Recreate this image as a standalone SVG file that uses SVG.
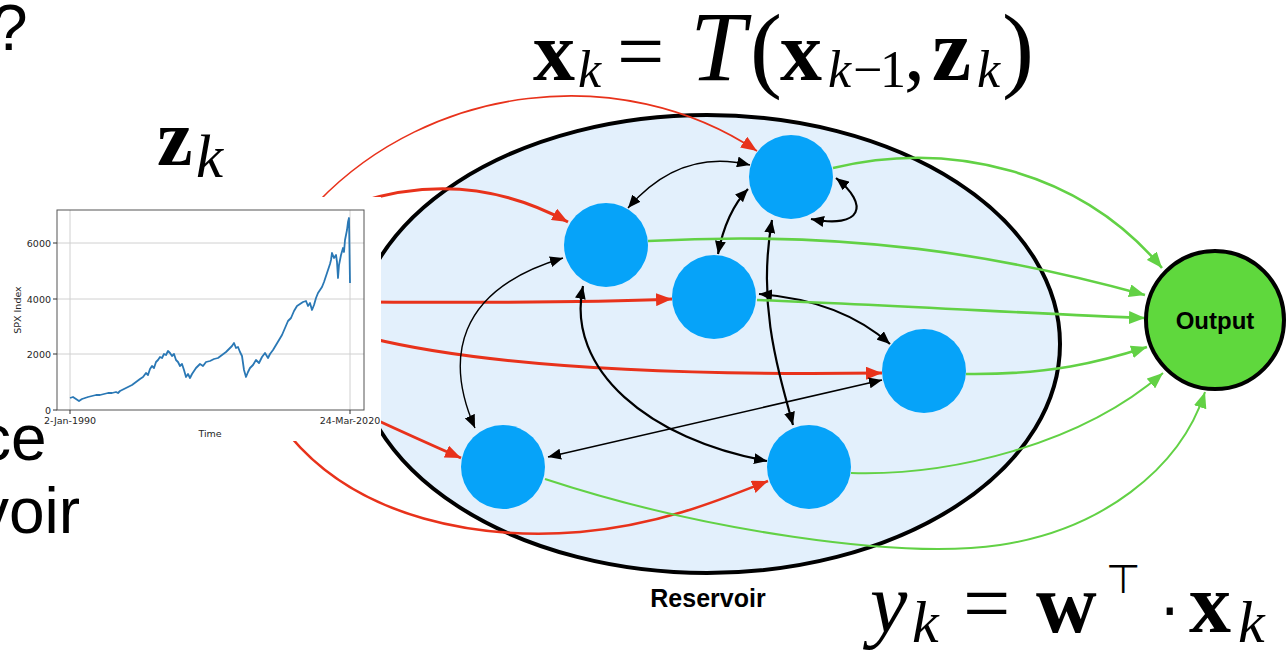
<svg xmlns="http://www.w3.org/2000/svg" width="1286" height="652" viewBox="0 0 1286 652">
<style>
.node{fill:#06a3f9}
.blk{fill:none;stroke:#000;stroke-width:2.2}
.red{fill:none;stroke:#e8321b;stroke-width:3}
.grn{fill:none;stroke:#62d145;stroke-width:2.6}
.big{font-family:"Liberation Sans",Arial,sans-serif;font-size:64px;fill:#000}
.lab{font-family:"Liberation Sans",Arial,sans-serif;font-weight:bold;fill:#000}
.mb{font-family:"Liberation Serif","Times New Roman",serif;font-weight:bold}
.mi{font-family:"Liberation Serif","Times New Roman",serif;font-style:italic}
.mr{font-family:"Liberation Serif","Times New Roman",serif}
.tick{font-family:"DejaVu Sans",sans-serif;font-size:9.5px;fill:#262626}
.grid{stroke:#d0d0d0;stroke-width:1}
</style>
<defs>
<marker id="ab" viewBox="0 0 13 11" refX="13" refY="5.5" markerWidth="13" markerHeight="11" markerUnits="userSpaceOnUse" orient="auto-start-reverse"><path d="M0,0 L13,5.5 L0,11 z" fill="#000"/></marker>
<marker id="ar" viewBox="0 0 16 13" refX="16" refY="6.5" markerWidth="16" markerHeight="13" markerUnits="userSpaceOnUse" orient="auto"><path d="M0,0 L16,6.5 L0,13 z" fill="#e8321b"/></marker>
<marker id="ag" viewBox="0 0 16 13" refX="16" refY="6.5" markerWidth="16" markerHeight="13" markerUnits="userSpaceOnUse" orient="auto"><path d="M0,0 L16,6.5 L0,13 z" fill="#62d145"/></marker>
</defs>

<g id="reservoir">
<ellipse cx="707" cy="344" rx="353" ry="229" fill="#e3f0fc" stroke="#000" stroke-width="4"/>
</g>

<g id="connectors">
<path class="red" style="stroke-width:1.6" d="M318,202 C430,85 620,60 757,151" marker-end="url(#ar)"/>
<path class="red" d="M360,202 C430,180 500,185 568,222" marker-end="url(#ar)"/>
<path class="red" d="M370,302 C500,303 600,302 672,299" marker-end="url(#ar)"/>
<path class="red" d="M370,338 C480,365 650,376 882,373" marker-end="url(#ar)"/>
<path class="red" d="M370,417 Q420,440 461,458" marker-end="url(#ar)"/>
<path class="red" style="stroke-width:2.6" d="M290,436 C360,520 480,540 580,532 C660,525 720,500 768,481" marker-end="url(#ar)"/>
<path class="blk" style="stroke-width:1.4" d="M628,208 Q680,148 750,165" marker-start="url(#ab)" marker-end="url(#ab)"/>
<path class="blk" d="M718,254 Q726,212 748,189" marker-start="url(#ab)" marker-end="url(#ab)"/>
<path class="blk" d="M811,219 C862,229 870,205 836,178" marker-start="url(#ab)" marker-end="url(#ab)"/>
<path class="blk" style="stroke-width:1.4" d="M475,428 C445,360 455,290 563,258" marker-start="url(#ab)" marker-end="url(#ab)"/>
<path class="blk" d="M583,286 C565,370 650,440 767,461" marker-start="url(#ab)" marker-end="url(#ab)"/>
<path class="blk" d="M759,294 Q840,300 890,344" marker-start="url(#ab)" marker-end="url(#ab)"/>
<path class="blk" d="M772,220 C758,300 775,360 793,425" marker-start="url(#ab)" marker-end="url(#ab)"/>
<path class="blk" style="stroke-width:1.6" d="M548,457 L882,380" marker-start="url(#ab)" marker-end="url(#ab)"/>
<path class="grn" d="M833,168 C950,140 1080,170 1162,268" marker-end="url(#ag)"/>
<path class="grn" d="M648,241 C850,230 1000,255 1145,295" marker-end="url(#ag)"/>
<path class="grn" d="M757,300 C900,305 1050,315 1145,318" marker-end="url(#ag)"/>
<path class="grn" d="M966,374 C1050,375 1100,362 1147,347" marker-end="url(#ag)"/>
<path class="grn" style="stroke-width:2" d="M851,473 C950,476 1080,445 1163,373" marker-end="url(#ag)"/>
<path class="grn" style="stroke-width:2" d="M545,479 C700,530 900,560 1000,545 C1100,530 1180,470 1205,392" marker-end="url(#ag)"/>
</g>

<g id="node-B"><circle class="node" cx="791" cy="177" r="42"/></g>
<g id="node-A"><circle class="node" cx="606" cy="245" r="42"/></g>
<g id="node-C"><circle class="node" cx="714" cy="297" r="42"/></g>
<g id="node-D"><circle class="node" cx="924" cy="371" r="42"/></g>
<g id="node-E"><circle class="node" cx="503" cy="467" r="42"/></g>
<g id="node-F"><circle class="node" cx="809" cy="467" r="42"/></g>
<g id="node-output">
<circle cx="1215" cy="320" r="69" fill="#5fd83d" stroke="#000" stroke-width="4"/>
<text class="lab" x="1215" y="329" font-size="24" text-anchor="middle">Output</text>
</g>
<g id="label-reservoir"><text class="lab" x="708" y="607" font-size="25" text-anchor="middle">Reservoir</text></g>

<g id="chart">
<rect x="0" y="197" width="381" height="244" fill="#fff"/>
<line class="grid" x1="57" y1="243" x2="364" y2="243"/>
<line class="grid" x1="57" y1="299" x2="364" y2="299"/>
<line class="grid" x1="57" y1="354" x2="364" y2="354"/>
<line class="grid" x1="70" y1="210" x2="70" y2="410"/>
<line class="grid" x1="350" y1="210" x2="350" y2="410"/>
<polyline fill="none" stroke="#2a78b5" stroke-width="1.8" stroke-linejoin="round" points="70,398 73,397 76,399 79,401 82,399 85,398 88,397 92,396 96,395 100,395 104,394 108,393 112,393 116,392 118,393 120,391 124,389 128,387 132,385 136,382 140,379 143,377 146,373 148,375 150,369 152,366 154,368 156,362 158,360 160,357 162,358 164,354 166,355 168,351 170,353 172,356 174,354 176,360 178,362 180,366 182,364 184,370 186,377 188,374 190,378 192,374 194,371 196,368 198,366 200,364 203,366 206,362 210,361 214,359 218,358 222,355 226,352 229,349 232,346 234,343 236,348 238,347 240,352 242,356 244,370 246,377 248,372 250,368 253,365 256,360 259,363 262,357 265,353 268,358 270,354 273,350 276,345 279,340 282,335 285,328 288,321 291,318 294,311 297,306 300,304 303,302 306,301 308,306 310,303 312,310 314,305 316,298 318,293 320,290 322,287 324,282 326,276 328,270 330,264 331,260 332,253 334,258 336,255 337,262 338,278 339,265 341,255 343,248 344,252 345,240 347,230 348,222 349,218 350,283"/>
<rect x="57" y="210" width="307" height="200" fill="none" stroke="#555" stroke-width="1"/>
<g stroke="#333" stroke-width="1">
<line x1="53" y1="243" x2="57" y2="243"/><line x1="53" y1="299" x2="57" y2="299"/><line x1="53" y1="354" x2="57" y2="354"/><line x1="53" y1="410" x2="57" y2="410"/>
<line x1="70" y1="410" x2="70" y2="414"/><line x1="350" y1="410" x2="350" y2="414"/>
</g>
<text class="tick" x="51" y="246.5" text-anchor="end">6000</text>
<text class="tick" x="51" y="302.5" text-anchor="end">4000</text>
<text class="tick" x="51" y="357.5" text-anchor="end">2000</text>
<text class="tick" x="51" y="413.5" text-anchor="end">0</text>
<text class="tick" x="70" y="424" text-anchor="middle">2-Jan-1990</text>
<text class="tick" x="350" y="424" text-anchor="middle">24-Mar-2020</text>
<text class="tick" x="210" y="437" text-anchor="middle">Time</text>
<text class="tick" x="0" y="0" text-anchor="middle" transform="translate(21,310) rotate(-90)">SPX Index</text>
</g>

<g id="side-text">
<text class="big" x="-8" y="50">?</text>
<text class="big" x="-21" y="460">ce</text>
<text class="big" x="-23" y="533">voir</text>
</g>

<g id="eq-z">
<text x="157" y="165" class="mb" font-size="80">z</text>
<text x="196" y="177" class="mi" font-size="61">k</text>
</g>

<g id="eq-top">
<text y="80"><tspan class="mb" x="533" font-size="84">x</tspan><tspan class="mi" x="578" y="87" font-size="52">k</tspan><tspan class="mr" x="617" y="80" font-size="84">=</tspan><tspan class="mi" x="690" font-size="100">T</tspan><tspan class="mr" x="750" font-size="96">(</tspan><tspan class="mb" x="780" font-size="84">x</tspan><tspan class="mi" x="828" y="87" font-size="52">k</tspan><tspan class="mr" x="853" font-size="52">−</tspan><tspan class="mr" x="880" font-size="52">1</tspan><tspan class="mr" x="904" y="80" font-size="84">,</tspan><tspan class="mb" x="932" font-size="88">z</tspan><tspan class="mi" x="977" y="87" font-size="52">k</tspan><tspan class="mr" x="1002" y="80" font-size="96">)</tspan></text>
</g>

<g id="eq-bottom">
<text y="632"><tspan class="mi" x="870" font-size="84">y</tspan><tspan class="mi" x="912" y="642" font-size="60">k</tspan><tspan class="mr" x="963" y="632" font-size="84">=</tspan><tspan class="mb" x="1036" font-size="84">w</tspan><tspan font-family="DejaVu Sans" x="1106" y="593" font-size="40">⊤</tspan><tspan font-family="DejaVu Sans" x="1160" y="632" font-size="60">⋅</tspan><tspan class="mb" x="1189" font-size="84">x</tspan><tspan class="mi" x="1238" y="642" font-size="60">k</tspan></text>
</g>
</svg>
